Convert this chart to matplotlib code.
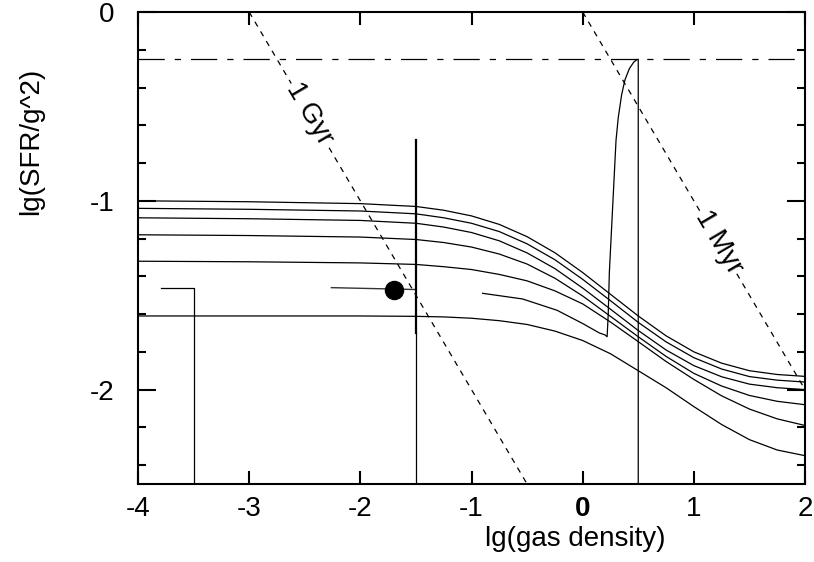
import matplotlib
matplotlib.use("Agg")
import matplotlib.pyplot as plt

plt.rcParams["font.family"] = ["Liberation Sans", "DejaVu Sans"]

# sample positions along lg(gas density) for the model tracks
track_x = [-4, -3, -2, -1.5, -1.25, -1, -0.75, -0.5, -0.25, 0,
           0.25, 0.5, 0.75, 1, 1.25, 1.5, 1.75, 2]

# model tracks, lg(SFR/g^2) (top to bottom)
track_a = [-1.00, -1.005, -1.015, -1.03, -1.05, -1.08, -1.125, -1.19, -1.275, -1.38,
           -1.495, -1.61, -1.715, -1.80, -1.86, -1.90, -1.92, -1.93]
track_b = [-1.04, -1.045, -1.054, -1.069, -1.09, -1.119, -1.163, -1.228, -1.312, -1.416,
           -1.529, -1.644, -1.747, -1.831, -1.891, -1.931, -1.95, -1.96]
track_c = [-1.09, -1.095, -1.104, -1.119, -1.139, -1.168, -1.212, -1.276, -1.359, -1.462,
           -1.574, -1.687, -1.79, -1.873, -1.932, -1.971, -1.99, -2.00]
track_d = [-1.18, -1.184, -1.192, -1.205, -1.221, -1.245, -1.282, -1.335, -1.41, -1.504,
           -1.612, -1.72, -1.824, -1.914, -1.981, -2.031, -2.062, -2.08]
track_e = [-1.32, -1.323, -1.329, -1.337, -1.349, -1.364, -1.39, -1.424, -1.477, -1.546,
           -1.642, -1.746, -1.851, -1.946, -2.033, -2.103, -2.155, -2.19]
track_f = [-1.61, -1.61, -1.61, -1.612, -1.615, -1.622, -1.635, -1.655, -1.69, -1.74,
           -1.81, -1.90, -1.99, -2.09, -2.185, -2.265, -2.32, -2.35]
tracks = [track_a, track_b, track_c, track_d, track_e, track_f]

# burst track: starts at -0.9, dips, spikes up, then drops to the floor
burst_x = [-0.90, -0.54, -0.23, 0.00, 0.15, 0.20, 0.22, 0.23, 0.24, 0.27, 0.30,
           0.32, 0.35, 0.38, 0.42, 0.46, 0.49, 0.50, 0.50]
burst_y = [-1.49, -1.52, -1.58, -1.65, -1.70, -1.71, -1.72, -1.60, -1.38, -1.03, -0.68,
           -0.56, -0.44, -0.36, -0.30, -0.265, -0.252, -0.25, -2.50]

# short track at low density
low_x = [-3.79, -3.50, -3.50]
low_y = [-1.46, -1.46, -2.50]

# observed point with its bars
obs_x, obs_y = -1.70, -1.47
obs_left_x = [-2.26, -1.50]
obs_left_y = [-1.46, -1.47]
bar_x = -1.5
bar_thick_y = [-0.68, -1.70]
bar_thin_y = [-1.70, -2.50]

# reference levels
peak_level = -0.25
gyr_x = [-3.0, -0.5]
gyr_y = [0.0, -2.5]
myr_x = [0.0, 2.0]
myr_y = [0.0, -2.0]

fig = plt.figure(figsize=(8.14, 5.62), dpi=100)
ax = fig.add_axes([138 / 814, 1 - 484 / 562, 667 / 814, 472 / 562])

for ty in tracks:
    ax.plot(track_x, ty, color="black", lw=0.9)

ax.plot(burst_x, burst_y, color="black", lw=0.9)
ax.plot(low_x, low_y, color="black", lw=0.9)
ax.plot(obs_left_x, obs_left_y, color="#333333", lw=1.0)
ax.plot([bar_x, bar_x], bar_thick_y, color="black", lw=1.6)
ax.plot([bar_x, bar_x], bar_thin_y, color="black", lw=0.9)
ax.plot(obs_x, obs_y, "o", color="black", markersize=13)

ax.axhline(peak_level, color="black", lw=0.9, dashes=(21, 8, 5, 8))
ax.plot(gyr_x, gyr_y, color="black", lw=0.9, dashes=(4.5, 4.5))
ax.plot(myr_x, myr_y, color="black", lw=0.9, dashes=(4.5, 4.5))

label_box = dict(facecolor="white", edgecolor="none", pad=1)
ax.text(-2.46, -0.54, "1 Gyr", rotation=-59.6, rotation_mode="anchor",
        ha="center", va="center", fontsize=20, bbox=label_box)
ax.text(1.22, -1.22, "1 Myr", rotation=-59.6, rotation_mode="anchor",
        ha="center", va="center", fontsize=20, bbox=label_box)

ax.set_xlim(-4, 2)
ax.set_ylim(-2.5, 0)

x_ticks = [-4, -3, -2, -1, 0, 1, 2]
x_labels = ["-4", "-3", "-2", "-1", "0", "1", "2"]
y_ticks = [0, -1, -2]
y_labels = ["0", "-1", "-2"]
y_minor = [-0.2, -0.4, -0.6, -0.8, -1.2, -1.4, -1.6, -1.8, -2.2, -2.4]

ax.set_xticks(x_ticks)
ax.set_xticklabels(x_labels)
ax.set_xticks([0], minor=True)
ax.set_yticks(y_ticks)
ax.set_yticklabels(y_labels)
ax.set_yticks(y_minor, minor=True)

ax.tick_params(axis="both", which="both", direction="in", top=True, right=True,
               labelsize=20, color="black")
ax.tick_params(axis="x", which="major", length=9.5, width=1.5, pad=9)
ax.tick_params(axis="x", which="minor", length=20, width=2)
ax.tick_params(axis="y", which="major", length=13, width=1.5, pad=17)
ax.tick_params(axis="y", which="minor", length=6, width=1.5)

# the zero label is printed heavier in the original
ax.get_xticklabels()[4].set_fontweight("bold")

for spine in ax.spines.values():
    spine.set_linewidth(1.5)

ax.set_xlabel("lg(gas density)", fontsize=20)
ax.xaxis.set_label_coords(0.655, -0.088)
ax.set_ylabel("lg(SFR/g^2)", fontsize=20)
ax.yaxis.set_label_coords(-0.14, 0.725)

fig.savefig("out.png", dpi=100)
